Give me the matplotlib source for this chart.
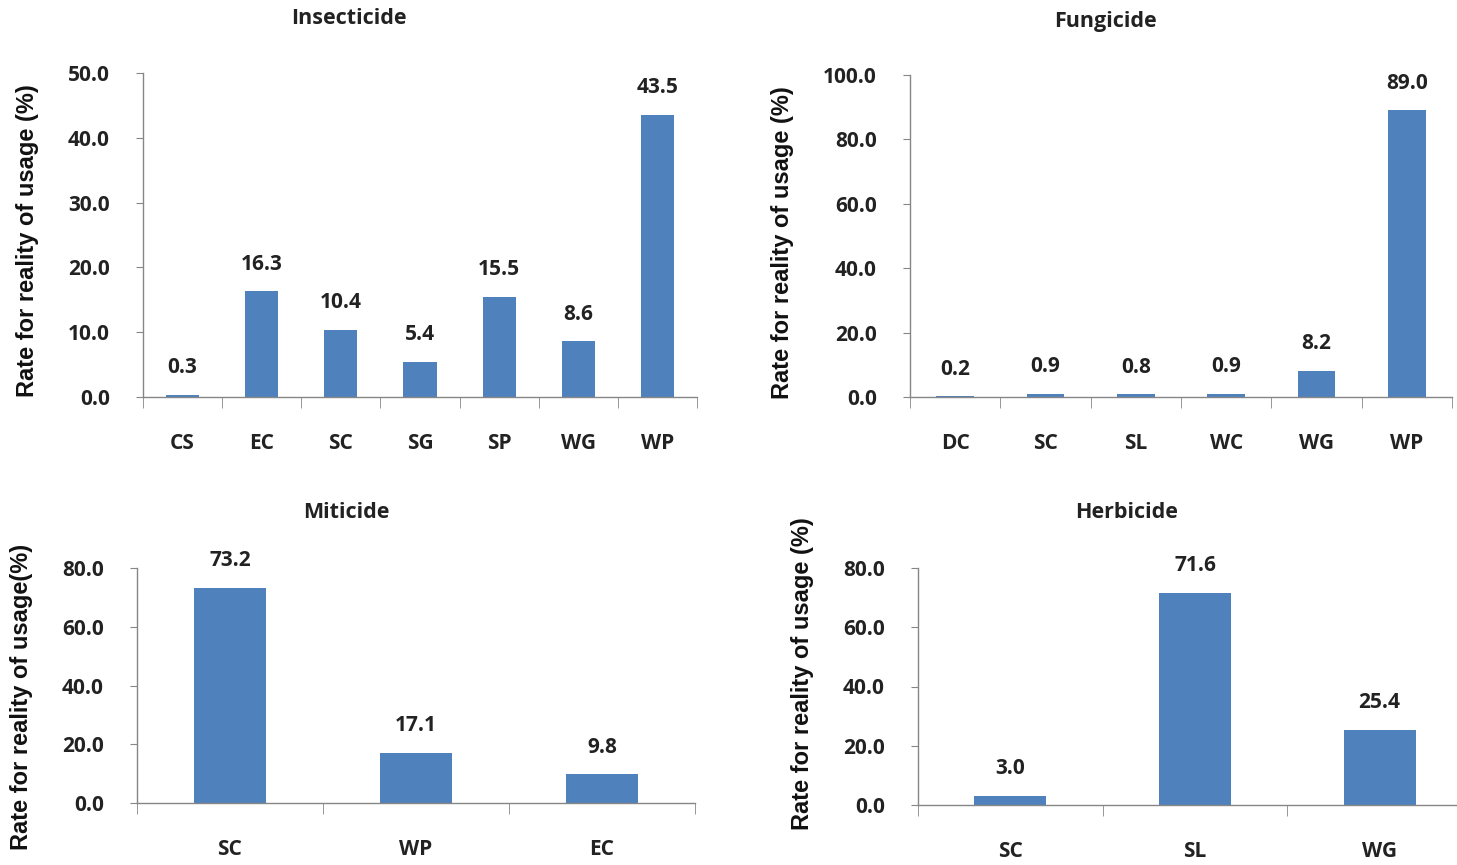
import matplotlib.pyplot as plt
import numpy as np

plt.rcParams['font.family'] = ['Open Sans', 'DejaVu Sans']

# data
insect_cat = ['CS', 'EC', 'SC', 'SG', 'SP', 'WG', 'WP']
insect_val = [0.3, 16.3, 10.4, 5.4, 15.5, 8.6, 43.5]

fungi_cat = ['DC', 'SC', 'SL', 'WC', 'WG', 'WP']
fungi_val = [0.2, 0.9, 0.8, 0.9, 8.2, 89.0]

miti_cat = ['SC', 'WP', 'EC']
miti_val = [73.2, 17.1, 9.8]

herbi_cat = ['SC', 'SL', 'WG']
herbi_val = [3.0, 71.6, 25.4]

W, H = 1457, 865
fig = plt.figure(figsize=(W / 100, H / 100), dpi=100)
bar_col = '#4F81BD'
axis_col = '#868686'


def px_axes(l, r, t, b):
    return fig.add_axes([l / W, (H - b) / H, (r - l) / W, (b - t) / H])


def panel(ax, cats, vals, ymax, ystep, bw):
    x = np.arange(len(cats))
    ax.bar(x, vals, width=bw, color=bar_col, zorder=2)
    for xi, v in zip(x, vals):
        ax.annotate('%.1f' % v, (xi, v), xytext=(0, 12), textcoords='offset points',
                    ha='center', va='bottom', fontsize=15, fontweight='bold', color='#222222')
    ax.set_xlim(-0.5, len(cats) - 0.5)
    ax.set_ylim(0, ymax)
    ax.set_yticks(np.arange(0, ymax + 0.01, ystep))
    ax.set_yticklabels(['%.1f' % t for t in np.arange(0, ymax + 0.01, ystep)])
    ax.set_xticks(x)
    ax.set_xticklabels(cats)
    ax.set_xticks(np.arange(-0.5, len(cats)), minor=True)
    ax.tick_params(axis='x', which='major', length=0, pad=26, labelsize=15)
    ax.tick_params(axis='x', which='minor', length=8, color=axis_col, direction='out')
    ax.tick_params(axis='y', length=5, color=axis_col, pad=19, labelsize=15)
    for lab in ax.get_xticklabels() + ax.get_yticklabels():
        lab.set_fontweight('bold')
        lab.set_color('#222222')
    for s in ['top', 'right']:
        ax.spines[s].set_visible(False)
    for s in ['left', 'bottom']:
        ax.spines[s].set_color(axis_col)
        ax.spines[s].set_linewidth(1.0)


ax1 = px_axes(143, 697, 73, 397)
panel(ax1, insect_cat, insect_val, 50, 10, 0.42)
ax2 = px_axes(910, 1452, 75, 397)
panel(ax2, fungi_cat, fungi_val, 100, 20, 0.42)
ax3 = px_axes(137, 695, 568, 803)
panel(ax3, miti_cat, miti_val, 80, 20, 0.39)
ax4 = px_axes(918, 1472, 568, 805)
panel(ax4, herbi_cat, herbi_val, 80, 20, 0.39)

# titles
for (tx, ty, s) in [(349, 19, 'Insecticide'), (1105, 22, 'Fungicide'),
                    (346, 513, 'Miticide'), (1127, 513, 'Herbicide')]:
    fig.text(tx / W, 1 - ty / H, s, ha='center', va='center', fontsize=15.5,
             fontweight='bold', color='#222222')

# y labels
for (tx, ty, s) in [(28, 241, 'Rate for reality of usage (%)'),
                    (783, 243, 'Rate for reality of usage (%)'),
                    (22, 697, 'Rate for reality of usage(%)'),
                    (803, 674, 'Rate for reality of usage (%)')]:
    fig.text(tx / W, 1 - ty / H, s, ha='center', va='center', rotation=90,
             fontsize=17, fontweight='bold', family=['Liberation Sans', 'DejaVu Sans'],
             color='#111111')

fig.savefig('out.png', dpi=100)
